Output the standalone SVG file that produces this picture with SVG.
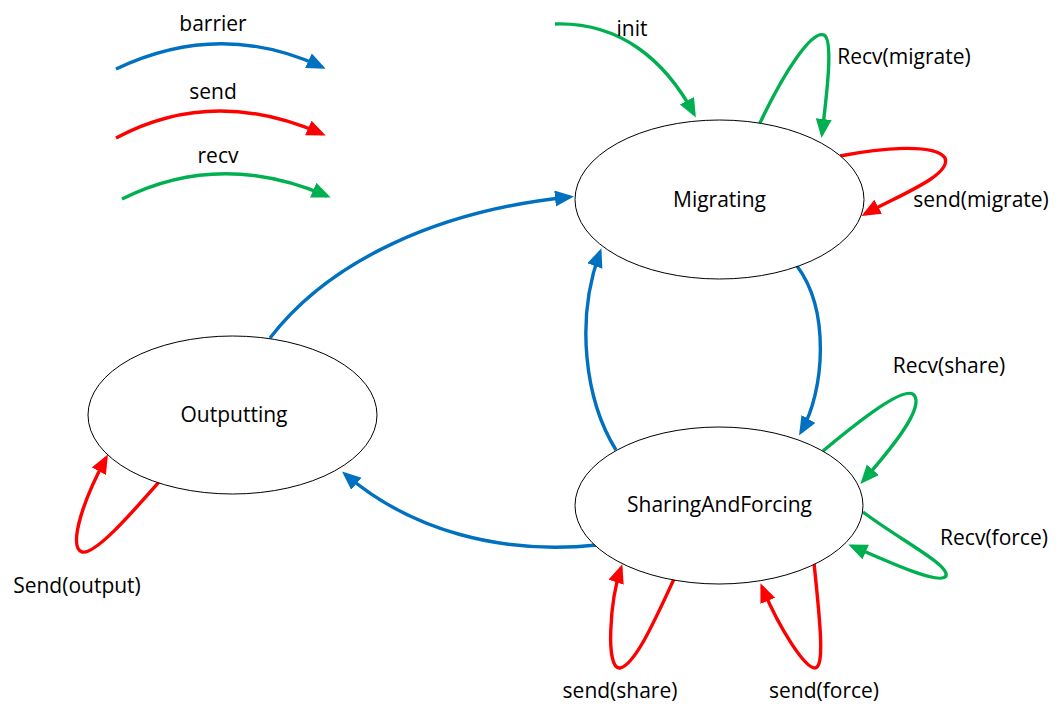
<svg xmlns="http://www.w3.org/2000/svg" width="1064" height="718" viewBox="0 0 1064 718">
<style>
text{font-family:"Open Sans","Liberation Sans",sans-serif;font-size:21px;fill:#000;text-anchor:middle}
.st{fill:#fff;stroke:#000;stroke-width:1}
.e{fill:none;stroke-width:3.4}
.b{stroke:#0070C0;marker-end:url(#mb)}
.r{stroke:#FF0000;marker-end:url(#mr)}
.g{stroke:#00B050;marker-end:url(#mg)}
</style>
<defs>
<marker id="mb" markerUnits="userSpaceOnUse" markerWidth="22" markerHeight="18" refX="15" refY="8" orient="auto"><path d="M0,0 L19,8 L0,16 z" fill="#0070C0"/></marker>
<marker id="mr" markerUnits="userSpaceOnUse" markerWidth="22" markerHeight="18" refX="15" refY="8" orient="auto"><path d="M0,0 L19,8 L0,16 z" fill="#FF0000"/></marker>
<marker id="mg" markerUnits="userSpaceOnUse" markerWidth="22" markerHeight="18" refX="15" refY="8" orient="auto"><path d="M0,0 L19,8 L0,16 z" fill="#00B050"/></marker>
</defs>
<g id="legend">
<path class="e b" d="M116,69 Q220,19.5 322,67"/>
<text x="213" y="31">barrier</text>
<path class="e r" d="M116,138 Q213,86 322,134"/>
<text x="213" y="99">send</text>
<path class="e g" d="M122,199 Q220,150 327,196"/>
<text x="218" y="163">recv</text>
</g>
<g id="connectors">
<path class="e g" d="M555,24 C620,22 665,60 694,114"/>
<path class="e g" d="M759,125 C785,70 812,30 824,35 C834,40 826,100 822,134"/>
<path class="e r" d="M840,156 C880,148 935,143 945,158 C952,175 900,195 865,214"/>
<path class="e b" d="M797,266 C830,310 825,390 801,432"/>
<path class="e b" d="M616,450 C585,400 575,320 600,252"/>
<path class="e b" d="M270,338 C330,260 440,210 570,197"/>
<path class="e b" d="M597,545 C500,555 410,530 345,474"/>
<path class="e r" d="M159,482 C130,515 95,555 82,552 C70,548 78,510 106,458"/>
<path class="e g" d="M823,451 C860,420 905,385 914,395 C925,408 890,450 863,481"/>
<path class="e g" d="M863,512 C900,540 950,565 946,576 C940,585 895,565 852,546"/>
<path class="e r" d="M674,579 C655,620 635,665 620,668 C605,670 610,600 621,568"/>
<path class="e r" d="M814,563 C820,620 825,668 815,668 C805,668 780,630 762,587"/>
</g>
<g id="Migrating">
<ellipse class="st" cx="719.5" cy="199.5" rx="144.5" ry="79.5"/>
<text x="719.5" y="207">Migrating</text>
</g>
<g id="SharingAndForcing">
<ellipse class="st" cx="719" cy="505.5" rx="144" ry="78.5"/>
<text x="719.5" y="512">SharingAndForcing</text>
</g>
<g id="Outputting">
<ellipse class="st" cx="232.5" cy="415" rx="144.5" ry="79"/>
<text x="234" y="422">Outputting</text>
</g>
<g id="labels">
<text x="632" y="36">init</text>
<text x="904" y="64">Recv(migrate)</text>
<text x="981" y="207">send(migrate)</text>
<text x="949" y="373">Recv(share)</text>
<text x="994" y="545">Recv(force)</text>
<text x="620" y="698">send(share)</text>
<text x="824" y="698">send(force)</text>
<text x="77" y="593">Send(output)</text>
</g>
</svg>
